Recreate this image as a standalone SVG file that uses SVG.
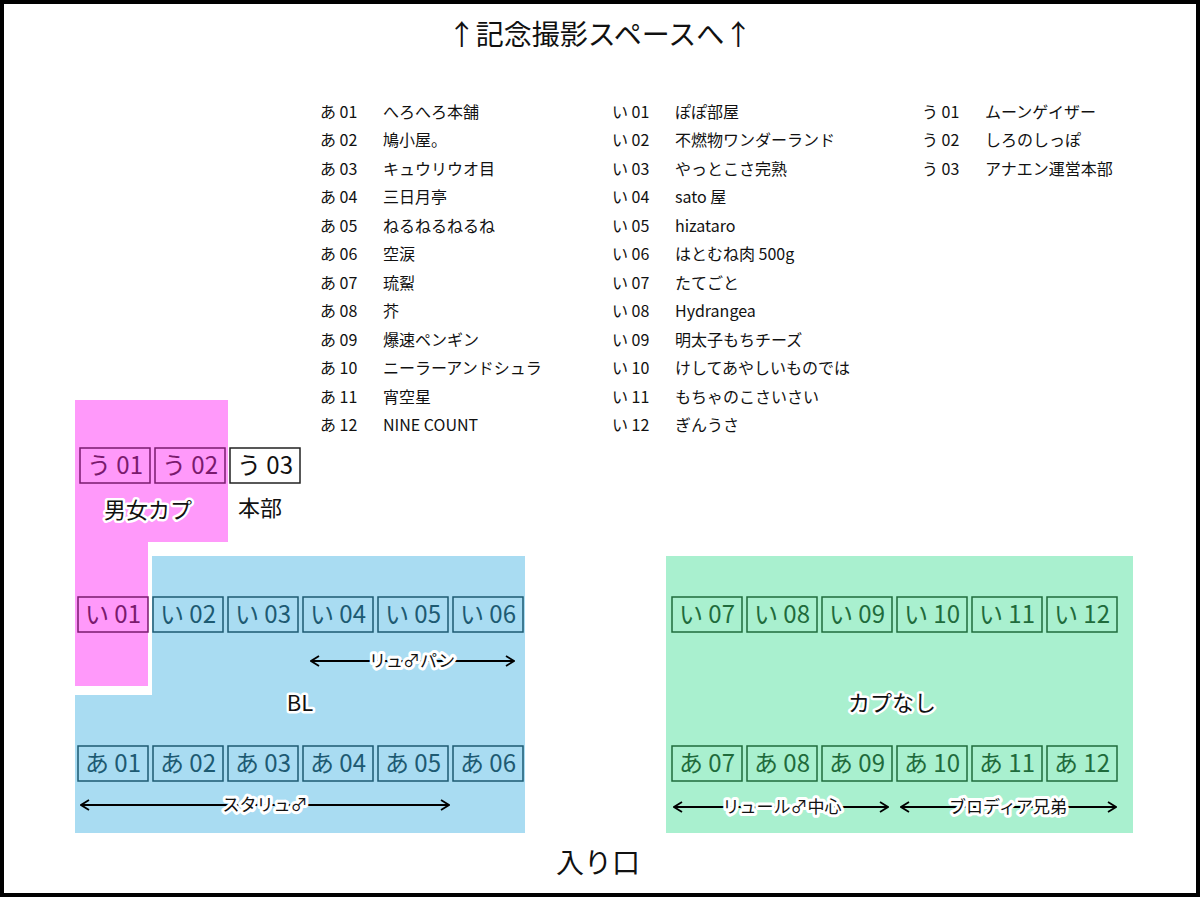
<svg xmlns="http://www.w3.org/2000/svg" width="1200" height="897" viewBox="0 0 1200 897">
<defs>
<style>
text{font-family:"Noto Sans CJK JP","Noto Sans",sans-serif;}
.lg{font-size:16px;fill:#111;}
.b{font-size:24px;}
.bx{stroke-width:1.5;}
.pk rect{fill:none;stroke:#7a1a6e}.pk text{fill:#7a1a6e}
.bl rect{fill:none;stroke:#1d5a72}.bl text{fill:#1d5a72}
.gr rect{fill:none;stroke:#1f6b3c}.gr text{fill:#1f6b3c}
.ar{stroke:#000;stroke-width:1.8;fill:none;marker-start:url(#a);marker-end:url(#a)}
.al{font-size:17px;fill:#111;stroke:#fff;stroke-width:6;paint-order:stroke;stroke-linejoin:round}
.zl{font-size:22px;fill:#111;stroke:#fff;stroke-width:5;paint-order:stroke;stroke-linejoin:round}
</style>
<marker id="a" viewBox="0 0 10 12" refX="9" refY="6" markerWidth="10" markerHeight="12" orient="auto-start-reverse" markerUnits="userSpaceOnUse"><path d="M1 1L9 6L1 11" fill="none" stroke="#000" stroke-width="1.8"/></marker>
</defs>
<rect width="1200" height="897" fill="#fff"/>
<rect x="2" y="2" width="1196" height="893" fill="none" stroke="#000" stroke-width="4"/>
<text x="600" y="45" text-anchor="middle" font-size="28" fill="#111">↑記念撮影スペースへ↑</text>
<g class="lg">
<text x="320" y="118">あ 01</text><text x="383" y="118">へろへろ本舗</text>
<text x="320" y="146">あ 02</text><text x="383" y="146">鳩小屋。</text>
<text x="320" y="175">あ 03</text><text x="383" y="175">キュウリウオ目</text>
<text x="320" y="203">あ 04</text><text x="383" y="203">三日月亭</text>
<text x="320" y="232">あ 05</text><text x="383" y="232">ねるねるねるね</text>
<text x="320" y="260">あ 06</text><text x="383" y="260">空涙</text>
<text x="320" y="289">あ 07</text><text x="383" y="289">琉鮤</text>
<text x="320" y="317">あ 08</text><text x="383" y="317">芥</text>
<text x="320" y="346">あ 09</text><text x="383" y="346">爆速ペンギン</text>
<text x="320" y="374">あ 10</text><text x="383" y="374">ニーラーアンドシュラ</text>
<text x="320" y="403">あ 11</text><text x="383" y="403">宵空星</text>
<text x="320" y="431">あ 12</text><text x="383" y="431">NINE COUNT</text>
<text x="612" y="118">い 01</text><text x="675" y="118">ぽぽ部屋</text>
<text x="612" y="146">い 02</text><text x="675" y="146">不燃物ワンダーランド</text>
<text x="612" y="175">い 03</text><text x="675" y="175">やっとこさ完熟</text>
<text x="612" y="203">い 04</text><text x="675" y="203">sato 屋</text>
<text x="612" y="232">い 05</text><text x="675" y="232">hizataro</text>
<text x="612" y="260">い 06</text><text x="675" y="260">はとむね肉 500g</text>
<text x="612" y="289">い 07</text><text x="675" y="289">たてごと</text>
<text x="612" y="317">い 08</text><text x="675" y="317">Hydrangea</text>
<text x="612" y="346">い 09</text><text x="675" y="346">明太子もちチーズ</text>
<text x="612" y="374">い 10</text><text x="675" y="374">けしてあやしいものでは</text>
<text x="612" y="403">い 11</text><text x="675" y="403">もちゃのこさいさい</text>
<text x="612" y="431">い 12</text><text x="675" y="431">ぎんうさ</text>
<text x="922" y="118">う 01</text><text x="985" y="118">ムーンゲイザー</text>
<text x="922" y="146">う 02</text><text x="985" y="146">しろのしっぽ</text>
<text x="922" y="175">う 03</text><text x="985" y="175">アナエン運営本部</text>
</g>
<g id="zones">
<path d="M75 400H228V542H148V686H75Z" fill="#ff99fa"/>
<path d="M152 556H525V833H75V695H152Z" fill="#a9dcf2"/>
<rect x="666" y="556" width="467" height="277" fill="#a9f0cf"/>
</g>
<g id="u" class="pk b">
<g id="u01"><rect class="bx" x="80" y="448" width="70" height="35"/><text x="115" y="474" text-anchor="middle">う 01</text></g>
<g id="u02"><rect class="bx" x="155" y="448" width="70" height="35"/><text x="190" y="474" text-anchor="middle">う 02</text></g>
<g id="i01"><rect class="bx" x="78" y="597" width="70" height="35"/><text x="113" y="623" text-anchor="middle">い 01</text></g>
</g>
<g id="u03"><rect x="230" y="448" width="70" height="35" fill="none" stroke="#222" stroke-width="1.5"/><text x="265" y="474" text-anchor="middle" font-size="24" fill="#111">う 03</text></g>
<g id="bl" class="bl b">
<g><rect class="bx" x="153" y="597" width="70" height="35"/><text x="188" y="623" text-anchor="middle">い 02</text></g>
<g><rect class="bx" x="228" y="597" width="70" height="35"/><text x="263" y="623" text-anchor="middle">い 03</text></g>
<g><rect class="bx" x="303" y="597" width="70" height="35"/><text x="338" y="623" text-anchor="middle">い 04</text></g>
<g><rect class="bx" x="378" y="597" width="70" height="35"/><text x="413" y="623" text-anchor="middle">い 05</text></g>
<g><rect class="bx" x="453" y="597" width="70" height="35"/><text x="488" y="623" text-anchor="middle">い 06</text></g>
<g><rect class="bx" x="78" y="746" width="70" height="35"/><text x="113" y="772" text-anchor="middle">あ 01</text></g>
<g><rect class="bx" x="153" y="746" width="70" height="35"/><text x="188" y="772" text-anchor="middle">あ 02</text></g>
<g><rect class="bx" x="228" y="746" width="70" height="35"/><text x="263" y="772" text-anchor="middle">あ 03</text></g>
<g><rect class="bx" x="303" y="746" width="70" height="35"/><text x="338" y="772" text-anchor="middle">あ 04</text></g>
<g><rect class="bx" x="378" y="746" width="70" height="35"/><text x="413" y="772" text-anchor="middle">あ 05</text></g>
<g><rect class="bx" x="453" y="746" width="70" height="35"/><text x="488" y="772" text-anchor="middle">あ 06</text></g>
</g>
<g id="gr" class="gr b">
<g><rect class="bx" x="672" y="597" width="70" height="35"/><text x="707" y="623" text-anchor="middle">い 07</text></g>
<g><rect class="bx" x="747" y="597" width="70" height="35"/><text x="782" y="623" text-anchor="middle">い 08</text></g>
<g><rect class="bx" x="822" y="597" width="70" height="35"/><text x="857" y="623" text-anchor="middle">い 09</text></g>
<g><rect class="bx" x="897" y="597" width="70" height="35"/><text x="932" y="623" text-anchor="middle">い 10</text></g>
<g><rect class="bx" x="972" y="597" width="70" height="35"/><text x="1007" y="623" text-anchor="middle">い 11</text></g>
<g><rect class="bx" x="1047" y="597" width="70" height="35"/><text x="1082" y="623" text-anchor="middle">い 12</text></g>
<g><rect class="bx" x="672" y="746" width="70" height="35"/><text x="707" y="772" text-anchor="middle">あ 07</text></g>
<g><rect class="bx" x="747" y="746" width="70" height="35"/><text x="782" y="772" text-anchor="middle">あ 08</text></g>
<g><rect class="bx" x="822" y="746" width="70" height="35"/><text x="857" y="772" text-anchor="middle">あ 09</text></g>
<g><rect class="bx" x="897" y="746" width="70" height="35"/><text x="932" y="772" text-anchor="middle">あ 10</text></g>
<g><rect class="bx" x="972" y="746" width="70" height="35"/><text x="1007" y="772" text-anchor="middle">あ 11</text></g>
<g><rect class="bx" x="1047" y="746" width="70" height="35"/><text x="1082" y="772" text-anchor="middle">あ 12</text></g>
</g>
<g id="connectors">
<line class="ar" x1="311" y1="661" x2="514" y2="661"/>
<line class="ar" x1="81" y1="805" x2="449" y2="805"/>
<line class="ar" x1="674" y1="807" x2="888" y2="807"/>
<line class="ar" x1="901" y1="807" x2="1116" y2="807"/>
</g>
<g id="labels">
<text class="al" x="412" y="667" text-anchor="middle">リュ♂パン</text>
<text class="al" x="265" y="811" text-anchor="middle">スタリュ♂</text>
<text class="al" x="782" y="813" text-anchor="middle">リュール♂中心</text>
<text class="al" x="1008" y="813" text-anchor="middle">ブロディア兄弟</text>
<text class="zl" x="148" y="518" text-anchor="middle">男女カプ</text>
<text x="260" y="516" text-anchor="middle" font-size="22" fill="#111">本部</text>
<text class="zl" x="300" y="711" text-anchor="middle">BL</text>
<text class="zl" x="892" y="711" text-anchor="middle">カプなし</text>
<text x="598" y="873" text-anchor="middle" font-size="28" fill="#111">入り口</text>
</g>
</svg>
